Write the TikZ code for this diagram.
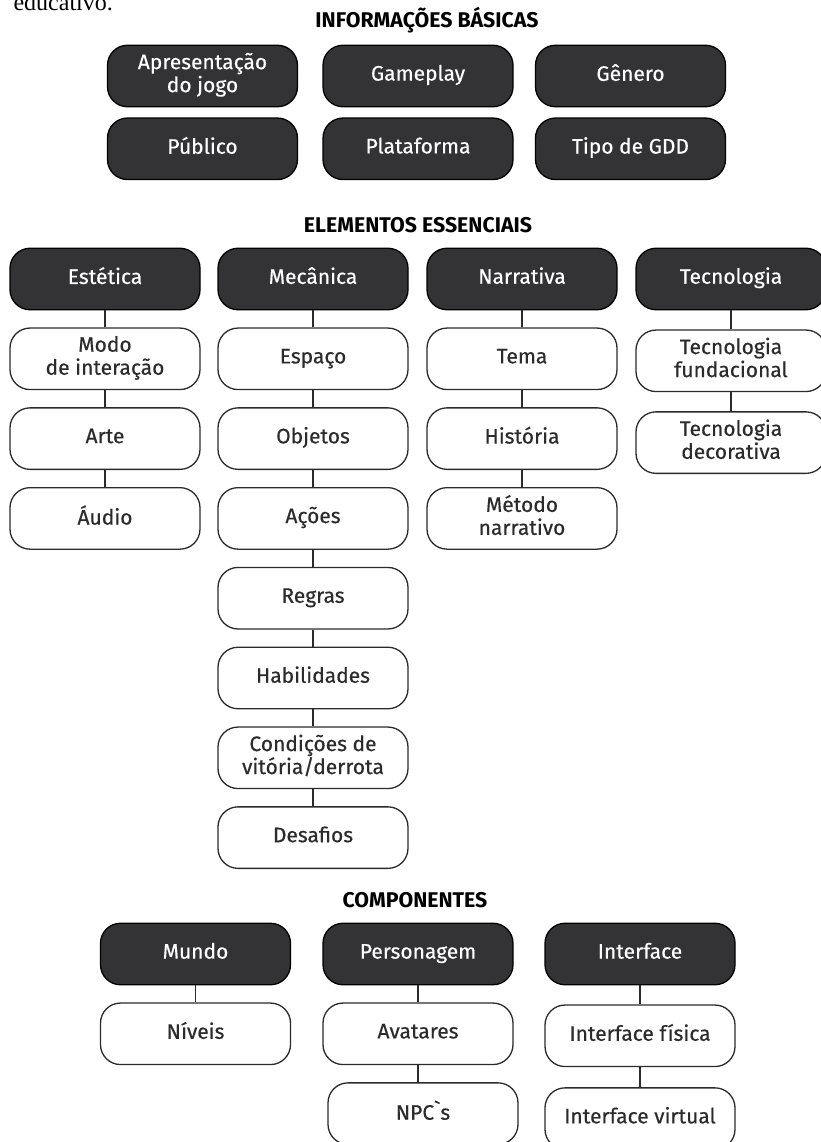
\documentclass[tikz,border=0pt]{standalone}
\usepackage{fontspec}
\setmainfont{Fira Sans}[Ligatures=TeXOff]
\newfontfamily\boxfont{Fira Sans}[Ligatures=TeXOff,FakeBold=0.4]
\newfontfamily\pageserif{Liberation Serif}
\usetikzlibrary{positioning}
\definecolor{boxdark}{HTML}{333335}
\definecolor{rulegray}{HTML}{2B2B2B}

\begin{document}
\begin{tikzpicture}[x=1pt,y=-1pt,
  node distance=17pt and 20pt,
  base/.style={rounded corners=20pt,align=center,minimum width=190pt,
    minimum height=61.5pt,line width=1.3pt,inner sep=2pt,
    font=\boxfont\fontsize{21}{23}\selectfont,
    execute at begin node=\strut,execute at end node=\strut},
  head/.style={base,draw=black,fill=boxdark,text=white},
  item/.style={base,draw=rulegray,fill=white,text=rulegray},
  title/.style={anchor=base,font=\fontsize{21.3}{23}\selectfont\bfseries},
  link/.style={line width=1.3pt,draw=rulegray}
]
  \useasboundingbox (0,0) rectangle (821,1142);
  \clip (0,0) rectangle (821,1142);
  \node[anchor=base west,font=\pageserif\fontsize{24}{28}\selectfont] (cut) at (10,11) {educativo.};

  % informacoes basicas
  \node[title] (tinfo) at (427,28) {INFORMAÇÕES BÁSICAS};
  \node[head] (apres) at (202.5,76) {Apresentação\\do jogo};
  \node[head] (gameplay) at (418,76) {Gameplay};
  \node[head] (genero) at (630.5,76) {Gênero};
  \node[head,below=10pt of apres] (publico) {Público};
  \node[head,below=10pt of gameplay] (plataf) {Plataforma};
  \node[head,below=10pt of genero] (tipogdd) {Tipo de GDD};

  % elementos essenciais
  \node[title] (telem) at (418,232) {ELEMENTOS ESSENCIAIS};
  \node[head] (estetica) at (105,279) {Estética};
  \node[head] (mecanica) at (313,279) {Mecânica};
  \node[head] (narrativa) at (522,279) {Narrativa};
  \node[head] (tecnologia) at (731,279) {Tecnologia};

  \node[item,below=of estetica] (modo) {Modo\\de interação};
  \node[item,below=of modo] (arte) {Arte};
  \node[item,below=of arte] (audio) {Áudio};

  \node[item,below=of mecanica] (espaco) {Espaço};
  \node[item,below=of espaco] (objetos) {Objetos};
  \node[item,below=of objetos] (acoes) {Ações};
  \node[item,below=of acoes] (regras) {Regras};
  \node[item,below=of regras] (habil) {Habilidades};
  \node[item,below=of habil] (condic) {Condições de\\vitória/derrota};
  \node[item,below=of condic] (desafios) {Desafios};

  \node[item,below=of narrativa] (tema) {Tema};
  \node[item,below=of tema] (historia) {História};
  \node[item,below=of historia] (metodo) {Método\\narrativo};

  \node[item,below=19pt of tecnologia] (tecfund) {Tecnologia\\fundacional};
  \node[item,below=19pt of tecfund] (tecdeco) {Tecnologia\\decorativa};

  % componentes
  \node[title] (tcomp) at (415,907) {COMPONENTES};
  \node[head] (mundo) at (195.5,954) {Mundo};
  \node[head] (person) at (418,954) {Personagem};
  \node[head] (interf) at (640,954) {Interface};

  \node[item,below=of mundo] (niveis) {Níveis};
  \node[item,below=of person] (avatares) {Avatares};
  \node[item,below=of avatares,xshift=5pt] (npcs) {NPC`s};
  \node[item,below=19pt of interf] (intfis) {Interface física};
  \node[item,below=20pt of intfis] (intvirt) {Interface virtual};

  \draw[link] (estetica) -- (modo) (modo) -- (arte) (arte) -- (audio);
  \draw[link] (mecanica) -- (espaco) (espaco) -- (objetos) (objetos) -- (acoes)
    (acoes) -- (regras) (regras) -- (habil) (habil) -- (condic) (condic) -- (desafios);
  \draw[link] (narrativa) -- (tema) (tema) -- (historia) (historia) -- (metodo);
  \draw[link] (tecnologia) -- (tecfund) (tecfund) -- (tecdeco);
  \draw[link] (mundo) -- (niveis);
  \draw[link] (person) -- (avatares);
  \draw[link] (avatares) -- (avatares |- npcs.north);
  \draw[link] (interf) -- (intfis) (intfis) -- (intvirt);
\end{tikzpicture}
\end{document}
